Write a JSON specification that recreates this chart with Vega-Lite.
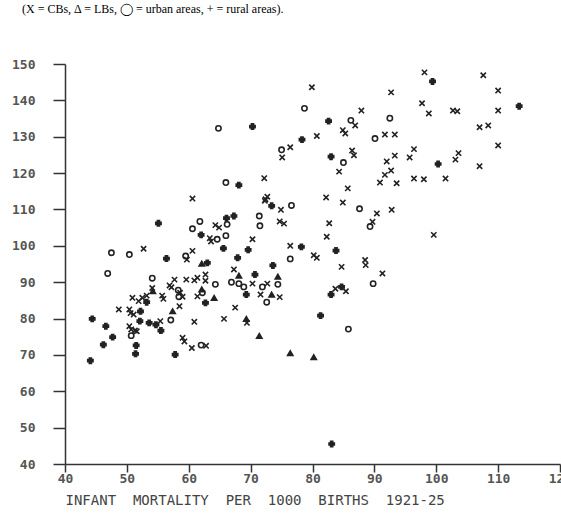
{
  "$schema": "https://vega.github.io/schema/vega-lite/v6.json",
  "autosize": "none",
  "width": 495,
  "height": 400,
  "padding": {"left": 65, "top": 64, "right": 1, "bottom": 53},
  "background": "white",
  "config": {"view": {"stroke": null}},
  "title": {
    "text": "(X = CBs, Δ = LBs, ◯ = urban areas, + = rural areas).",
    "anchor": "start",
    "frame": "group",
    "dx": -43,
    "offset": 42,
    "font": "Liberation Serif",
    "fontSize": 12,
    "fontWeight": "normal",
    "color": "#000"
  },
  "data": {
    "values": [
      {"x": 46.9, "y": 92.4, "t": "urban"},
      {"x": 54.1, "y": 91.1, "t": "urban"},
      {"x": 57.7, "y": 90.7, "t": "CB"},
      {"x": 59.6, "y": 90.7, "t": "CB"},
      {"x": 60.9, "y": 90.5, "t": "CB"},
      {"x": 59.5, "y": 97.2, "t": "urban"},
      {"x": 59.7, "y": 96.2, "t": "CB"},
      {"x": 56.9, "y": 89.1, "t": "CB"},
      {"x": 57.2, "y": 88.6, "t": "CB"},
      {"x": 54.1, "y": 88.4, "t": "CB"},
      {"x": 54.2, "y": 87.5, "t": "LB"},
      {"x": 58.3, "y": 87.8, "t": "urban"},
      {"x": 58.6, "y": 87.1, "t": "CB"},
      {"x": 58.4, "y": 86.0, "t": "urban"},
      {"x": 59.0, "y": 86.0, "t": "CB"},
      {"x": 55.7, "y": 86.3, "t": "CB"},
      {"x": 55.9, "y": 85.4, "t": "CB"},
      {"x": 52.5, "y": 85.7, "t": "CB"},
      {"x": 53.2, "y": 86.3, "t": "CB"},
      {"x": 50.9, "y": 85.7, "t": "CB"},
      {"x": 53.2, "y": 84.5, "t": "rural"},
      {"x": 51.9, "y": 84.8, "t": "CB"},
      {"x": 61.4, "y": 86.1, "t": "CB"},
      {"x": 58.5, "y": 83.4, "t": "CB"},
      {"x": 57.4, "y": 82.0, "t": "LB"},
      {"x": 48.7, "y": 82.5, "t": "CB"},
      {"x": 50.4, "y": 82.5, "t": "CB"},
      {"x": 50.6, "y": 81.5, "t": "CB"},
      {"x": 51.1, "y": 81.1, "t": "CB"},
      {"x": 52.2, "y": 82.0, "t": "rural"},
      {"x": 44.4, "y": 79.9, "t": "rural"},
      {"x": 52.1, "y": 79.3, "t": "rural"},
      {"x": 53.6, "y": 78.8, "t": "rural"},
      {"x": 54.7, "y": 78.3, "t": "rural"},
      {"x": 55.4, "y": 79.3, "t": "CB"},
      {"x": 57.1, "y": 79.6, "t": "urban"},
      {"x": 60.9, "y": 79.1, "t": "CB"},
      {"x": 46.6, "y": 77.9, "t": "rural"},
      {"x": 50.4, "y": 77.9, "t": "CB"},
      {"x": 50.7, "y": 77.0, "t": "CB"},
      {"x": 51.3, "y": 76.7, "t": "CB"},
      {"x": 51.6, "y": 76.5, "t": "CB"},
      {"x": 55.5, "y": 76.7, "t": "rural"},
      {"x": 50.7, "y": 75.3, "t": "urban"},
      {"x": 47.7, "y": 74.9, "t": "rural"},
      {"x": 59.0, "y": 74.7, "t": "CB"},
      {"x": 59.3, "y": 73.7, "t": "CB"},
      {"x": 46.2, "y": 72.8, "t": "rural"},
      {"x": 51.5, "y": 72.6, "t": "rural"},
      {"x": 60.5, "y": 71.9, "t": "CB"},
      {"x": 51.4, "y": 70.3, "t": "rural"},
      {"x": 57.8, "y": 70.1, "t": "rural"},
      {"x": 44.1, "y": 68.4, "t": "rural"},
      {"x": 60.6, "y": 113.0, "t": "CB"},
      {"x": 55.1, "y": 106.2, "t": "rural"},
      {"x": 60.6, "y": 104.7, "t": "urban"},
      {"x": 61.8, "y": 106.7, "t": "urban"},
      {"x": 47.5, "y": 98.1, "t": "urban"},
      {"x": 50.4, "y": 97.6, "t": "urban"},
      {"x": 52.7, "y": 99.2, "t": "CB"},
      {"x": 60.6, "y": 98.6, "t": "CB"},
      {"x": 56.4, "y": 96.5, "t": "rural"},
      {"x": 62.0, "y": 103.0, "t": "rural"},
      {"x": 75.0, "y": 126.4, "t": "urban"},
      {"x": 75.1, "y": 124.3, "t": "CB"},
      {"x": 72.2, "y": 118.6, "t": "CB"},
      {"x": 66.0, "y": 117.4, "t": "urban"},
      {"x": 68.1, "y": 116.7, "t": "rural"},
      {"x": 72.7, "y": 113.5, "t": "CB"},
      {"x": 72.4, "y": 112.8, "t": "CB"},
      {"x": 72.3, "y": 112.4, "t": "CB"},
      {"x": 73.4, "y": 111.0, "t": "rural"},
      {"x": 74.9, "y": 109.9, "t": "CB"},
      {"x": 76.6, "y": 111.1, "t": "urban"},
      {"x": 82.2, "y": 113.3, "t": "CB"},
      {"x": 67.3, "y": 108.2, "t": "rural"},
      {"x": 66.1, "y": 107.6, "t": "rural"},
      {"x": 71.4, "y": 108.2, "t": "urban"},
      {"x": 64.3, "y": 105.7, "t": "CB"},
      {"x": 64.9, "y": 105.0, "t": "CB"},
      {"x": 66.2, "y": 105.9, "t": "urban"},
      {"x": 71.5, "y": 105.5, "t": "urban"},
      {"x": 74.7, "y": 106.7, "t": "CB"},
      {"x": 75.4, "y": 106.1, "t": "CB"},
      {"x": 66.0, "y": 102.8, "t": "urban"},
      {"x": 63.4, "y": 102.1, "t": "CB"},
      {"x": 63.6, "y": 101.2, "t": "CB"},
      {"x": 64.6, "y": 101.8, "t": "urban"},
      {"x": 70.3, "y": 101.8, "t": "CB"},
      {"x": 82.3, "y": 102.5, "t": "CB"},
      {"x": 76.4, "y": 100.0, "t": "CB"},
      {"x": 78.2, "y": 99.7, "t": "rural"},
      {"x": 65.6, "y": 99.3, "t": "rural"},
      {"x": 69.6, "y": 98.9, "t": "rural"},
      {"x": 76.4, "y": 96.4, "t": "urban"},
      {"x": 80.2, "y": 97.4, "t": "CB"},
      {"x": 80.7, "y": 96.7, "t": "CB"},
      {"x": 67.9, "y": 96.7, "t": "rural"},
      {"x": 62.1, "y": 95.1, "t": "LB"},
      {"x": 63.0, "y": 95.3, "t": "rural"},
      {"x": 73.6, "y": 94.6, "t": "rural"},
      {"x": 67.3, "y": 93.5, "t": "CB"},
      {"x": 68.1, "y": 91.8, "t": "LB"},
      {"x": 70.7, "y": 92.1, "t": "rural"},
      {"x": 74.4, "y": 91.5, "t": "LB"},
      {"x": 62.7, "y": 92.1, "t": "CB"},
      {"x": 61.4, "y": 91.2, "t": "CB"},
      {"x": 62.7, "y": 90.4, "t": "CB"},
      {"x": 64.3, "y": 89.4, "t": "urban"},
      {"x": 66.9, "y": 90.0, "t": "urban"},
      {"x": 68.1, "y": 89.6, "t": "urban"},
      {"x": 68.9, "y": 88.7, "t": "urban"},
      {"x": 70.3, "y": 89.6, "t": "CB"},
      {"x": 71.9, "y": 88.7, "t": "urban"},
      {"x": 72.7, "y": 89.6, "t": "CB"},
      {"x": 74.4, "y": 89.4, "t": "urban"},
      {"x": 62.1, "y": 88.0, "t": "LB"},
      {"x": 62.2, "y": 87.1, "t": "urban"},
      {"x": 64.1, "y": 85.7, "t": "LB"},
      {"x": 69.3, "y": 86.6, "t": "rural"},
      {"x": 71.6, "y": 86.6, "t": "CB"},
      {"x": 73.4, "y": 86.6, "t": "LB"},
      {"x": 74.7, "y": 85.9, "t": "CB"},
      {"x": 62.7, "y": 84.3, "t": "rural"},
      {"x": 72.6, "y": 84.5, "t": "urban"},
      {"x": 67.5, "y": 83.0, "t": "CB"},
      {"x": 65.7, "y": 79.9, "t": "CB"},
      {"x": 69.3, "y": 79.9, "t": "LB"},
      {"x": 69.4, "y": 78.8, "t": "CB"},
      {"x": 81.3, "y": 80.8, "t": "rural"},
      {"x": 71.4, "y": 75.2, "t": "LB"},
      {"x": 62.0, "y": 72.7, "t": "urban"},
      {"x": 62.8, "y": 72.5, "t": "CB"},
      {"x": 76.4, "y": 70.5, "t": "LB"},
      {"x": 80.2, "y": 69.4, "t": "LB"},
      {"x": 84.9, "y": 111.9, "t": "CB"},
      {"x": 87.6, "y": 110.2, "t": "urban"},
      {"x": 90.4, "y": 108.9, "t": "CB"},
      {"x": 92.8, "y": 109.9, "t": "CB"},
      {"x": 89.7, "y": 106.6, "t": "CB"},
      {"x": 89.3, "y": 105.3, "t": "urban"},
      {"x": 82.7, "y": 106.2, "t": "CB"},
      {"x": 83.8, "y": 98.7, "t": "rural"},
      {"x": 88.5, "y": 96.1, "t": "CB"},
      {"x": 88.6, "y": 94.7, "t": "CB"},
      {"x": 84.7, "y": 94.2, "t": "CB"},
      {"x": 91.3, "y": 92.4, "t": "CB"},
      {"x": 89.8, "y": 89.6, "t": "urban"},
      {"x": 83.7, "y": 88.2, "t": "CB"},
      {"x": 84.7, "y": 88.7, "t": "rural"},
      {"x": 85.4, "y": 87.5, "t": "CB"},
      {"x": 83.0, "y": 86.6, "t": "rural"},
      {"x": 85.8, "y": 77.1, "t": "urban"},
      {"x": 83.1, "y": 45.5, "t": "rural"},
      {"x": 99.6, "y": 103.0, "t": "CB"},
      {"x": 79.9, "y": 143.6, "t": "CB"},
      {"x": 78.7, "y": 137.8, "t": "urban"},
      {"x": 92.7, "y": 142.2, "t": "CB"},
      {"x": 87.9, "y": 137.2, "t": "CB"},
      {"x": 92.5, "y": 135.1, "t": "urban"},
      {"x": 64.8, "y": 132.3, "t": "urban"},
      {"x": 70.3, "y": 132.8, "t": "rural"},
      {"x": 82.6, "y": 134.3, "t": "rural"},
      {"x": 86.2, "y": 134.5, "t": "urban"},
      {"x": 86.9, "y": 133.1, "t": "CB"},
      {"x": 84.9, "y": 131.8, "t": "CB"},
      {"x": 85.3, "y": 130.9, "t": "CB"},
      {"x": 90.1, "y": 129.5, "t": "urban"},
      {"x": 91.7, "y": 130.6, "t": "CB"},
      {"x": 93.3, "y": 130.6, "t": "CB"},
      {"x": 80.7, "y": 130.2, "t": "CB"},
      {"x": 78.3, "y": 129.2, "t": "rural"},
      {"x": 76.4, "y": 127.1, "t": "CB"},
      {"x": 86.4, "y": 126.2, "t": "CB"},
      {"x": 86.7, "y": 124.9, "t": "CB"},
      {"x": 83.0, "y": 124.5, "t": "rural"},
      {"x": 85.0, "y": 122.9, "t": "urban"},
      {"x": 93.3, "y": 124.8, "t": "CB"},
      {"x": 92.0, "y": 123.2, "t": "CB"},
      {"x": 92.7, "y": 120.7, "t": "CB"},
      {"x": 91.7, "y": 119.5, "t": "CB"},
      {"x": 90.9, "y": 117.4, "t": "CB"},
      {"x": 93.6, "y": 117.2, "t": "CB"},
      {"x": 84.3, "y": 120.4, "t": "CB"},
      {"x": 85.7, "y": 115.8, "t": "CB"},
      {"x": 98.1, "y": 147.7, "t": "CB"},
      {"x": 99.4, "y": 145.2, "t": "rural"},
      {"x": 107.6, "y": 146.9, "t": "CB"},
      {"x": 110.0, "y": 142.7, "t": "CB"},
      {"x": 97.7, "y": 139.2, "t": "CB"},
      {"x": 98.8, "y": 136.4, "t": "CB"},
      {"x": 102.7, "y": 137.2, "t": "CB"},
      {"x": 103.4, "y": 137.0, "t": "CB"},
      {"x": 110.0, "y": 137.2, "t": "CB"},
      {"x": 113.4, "y": 138.4, "t": "rural"},
      {"x": 107.0, "y": 132.6, "t": "CB"},
      {"x": 108.4, "y": 133.1, "t": "CB"},
      {"x": 110.0, "y": 127.6, "t": "CB"},
      {"x": 96.4, "y": 126.6, "t": "CB"},
      {"x": 95.7, "y": 124.3, "t": "CB"},
      {"x": 103.6, "y": 125.5, "t": "CB"},
      {"x": 103.1, "y": 123.7, "t": "CB"},
      {"x": 100.3, "y": 122.5, "t": "rural"},
      {"x": 107.0, "y": 121.9, "t": "CB"},
      {"x": 96.4, "y": 118.5, "t": "CB"},
      {"x": 98.0, "y": 118.3, "t": "CB"},
      {"x": 101.5, "y": 118.5, "t": "CB"}
    ]
  },
  "mark": {"type": "point", "filled": true, "stroke": "#222", "strokeWidth": 1.6, "size": 28, "opacity": 1},
  "encoding": {
    "x": {
      "field": "x", "type": "quantitative",
      "scale": {"domain": [40, 120], "nice": false, "zero": false},
      "axis": {
        "values": [40, 50, 60, 70, 80, 90, 100, 110, 120],
        "grid": false,
        "domainColor": "#333", "domainWidth": 1.5,
        "tickColor": "#333", "tickWidth": 1.5, "tickSize": 8,
        "labelFont": "DejaVu Sans Mono", "labelFontSize": 13, "labelFontWeight": "bold", "labelColor": "#555",
        "labelPadding": 0, "labelFlush": false, "labelOverlap": false,
        "title": "INFANT\u00a0\u00a0MORTALITY\u00a0\u00a0PER\u00a0\u00a01000\u00a0\u00a0BIRTHS\u00a0\u00a01921-25",
        "titleFont": "DejaVu Sans Mono", "titleFontSize": 14, "titleFontWeight": "normal", "titleColor": "#444",
        "titleX": 0, "titleY": 29, "titleAlign": "left", "titleBaseline": "top", "titleAnchor": null
      }
    },
    "y": {
      "field": "y", "type": "quantitative",
      "scale": {"domain": [40, 150], "nice": false, "zero": false},
      "axis": {
        "values": [40, 50, 60, 70, 80, 90, 100, 110, 120, 130, 140, 150],
        "grid": false,
        "domainColor": "#333", "domainWidth": 1.5,
        "tickColor": "#333", "tickWidth": 1.5, "tickSize": 12,
        "labelFont": "DejaVu Sans Mono", "labelFontSize": 13, "labelFontWeight": "bold", "labelColor": "#555",
        "labelPadding": 18, "labelFlush": false, "labelOverlap": false,
        "title": null
      }
    },
    "shape": {
      "field": "t", "type": "nominal",
      "scale": {"domain": ["CB", "LB", "urban", "rural"], "range": ["M-1,-1L1,1M1,-1L-1,1", "triangle-up", "circle", "cross"]},
      "legend": null
    },
    "fill": {
      "field": "t", "type": "nominal",
      "scale": {"domain": ["CB", "LB", "urban", "rural"], "range": ["#222", "#222", "transparent", "#222"]},
      "legend": null
    }
  }
}
